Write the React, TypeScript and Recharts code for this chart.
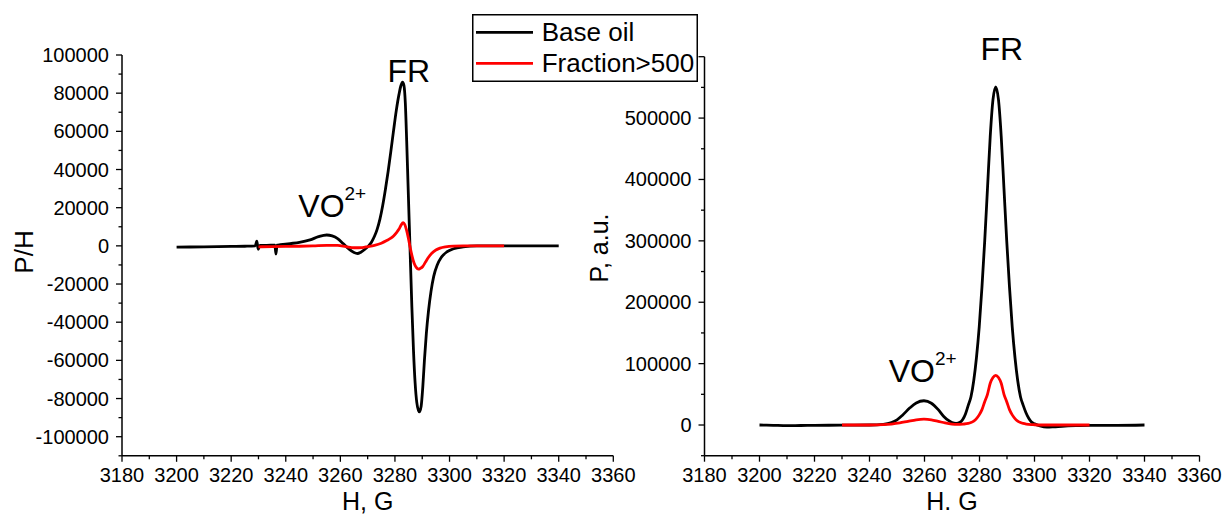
import React from 'react';
import { LineChart, Line, XAxis, YAxis, Legend, ReferenceDot, Label } from 'recharts';

const FONT = '"Liberation Sans", Arial, Helvetica, sans-serif';
const INK = '#000000';
const RED = '#ff0000';

const seriesNames = ['Base oil', 'Fraction>500'];

// Magnetic field axis, G
const fieldTicks = [3180, 3190, 3200, 3210, 3220, 3230, 3240, 3250, 3260, 3270, 3280, 3290, 3300, 3310, 3320, 3330, 3340, 3350, 3360];
const fieldLabelStep = 20;

// First-derivative spectra, P/H
const derivTicks = [
  -110000, -100000, -90000, -80000, -70000, -60000, -50000, -40000, -30000, -20000, -10000,
  0, 10000, 20000, 30000, 40000, 50000, 60000, 70000, 80000, 90000, 100000,
];
const derivLabelStep = 20000;

// Integrated spectra, P, a.u.
const absTicks = [-50000, 0, 50000, 100000, 150000, 200000, 250000, 300000, 350000, 400000, 450000, 500000, 550000, 600000];
const absLabelStep = 100000;
const absUnlabelled = [600000];

// Base oil, derivative
const derivBaseH = [
  3200, 3205, 3210, 3215, 3220, 3225, 3228.8, 3229.4, 3229.9, 3230.5, 3233, 3236, 3236.4, 3236.8, 3238,
  3241.6, 3245, 3248.9, 3252, 3255, 3257, 3259, 3261, 3263, 3265, 3266.3, 3267.5, 3269, 3270.5, 3271.5,
  3272.5, 3273.5, 3274.5, 3275.5, 3276.5, 3277.5, 3278.5, 3279.5, 3280.5, 3281.5, 3282.2, 3282.8, 3283.3,
  3283.8, 3284.3, 3284.8, 3285.5, 3286.2, 3286.8, 3287.4, 3288, 3288.9, 3289.6, 3290.2, 3290.8, 3291.5,
  3292.3, 3293.2, 3294.2, 3295.5, 3297, 3299, 3301.5, 3305, 3310, 3320, 3330, 3340,
];
const derivBaseP = [
  -700, -600, -500, -400, -300, -200, 0, 2500, -1800, 300, 300, 400, -4300, 400, 600,
  1200, 1800, 3100, 4800, 5700, 5200, 3800, 1200, -1500, -3500, -4000, -3300, -1800, 300, 2200,
  5000, 8800, 14000, 21000, 29500, 39000, 49500, 60500, 71000, 79500, 84000, 85800, 84000,
  75000, 55000, 32000, 0, -32000, -55000, -72000, -82000, -87000, -84000, -74000, -60000, -46000,
  -34000, -24000, -16000, -10000, -6000, -3200, -1500, -500, 0, 0, 0, 0,
];

// Fraction>500, derivative
const derivFracH = [
  3230, 3235, 3240, 3245, 3250, 3255, 3259, 3262, 3265, 3268, 3270, 3272.5, 3275, 3277, 3278.5, 3279.5,
  3280.5, 3281.5, 3282.3, 3283, 3283.6, 3284.2, 3284.9, 3285.6, 3286.3, 3287, 3287.8, 3288.6, 3289.3,
  3290.2, 3291.2, 3292.3, 3293.5, 3295, 3296.5, 3298.5, 3301.4, 3305, 3310, 3315, 3320,
];
const derivFracP = [
  -500, -400, -300, -200, 0, 300, 200, -400, -1000, -900, -400, 300, 1400, 2800, 4000, 5200,
  6800, 8800, 11000, 12200, 11200, 8500, 4200, -1000, -5500, -9000, -11300, -12200, -11800,
  -10800, -8500, -6000, -3900, -2200, -1200, -500, -100, 0, 0, 0, 0,
];

// Base oil, integrated
const absBaseH = [
  3200, 3205, 3210, 3215, 3220, 3230, 3240, 3245, 3248, 3250, 3252, 3254.7, 3257, 3259.8, 3262.5, 3265,
  3267, 3268.7, 3270, 3271.5, 3272.9, 3273.9, 3274.9, 3275.9, 3276.9, 3277.9, 3278.9, 3279.9, 3280.9,
  3281.9, 3282.9, 3283.9, 3284.9, 3285.9, 3286.9, 3287.9, 3288.9, 3289.9, 3290.9, 3291.9, 3292.9, 3293.9,
  3294.9, 3295.9, 3296.9, 3297.9, 3298.9, 3300, 3302, 3304.5, 3307, 3310, 3315, 3320, 3330, 3340,
];
const absBaseP = [
  0, -500, -1000, -800, -500, -300, 0, 1000, 4000, 8500, 16000, 28000, 36000, 39500, 35500, 25000,
  14000, 7500, 4000, 2700, 4500, 9000, 18000, 32000, 46000, 72000, 110000, 160000, 225000,
  300000, 385000, 470000, 530000, 551000, 530000, 470000, 385000, 300000, 225000, 160000, 110000, 72000,
  46000, 32000, 20000, 11000, 5000, 2000, -1500, -3500, -3000, -2000, -1000, -500, -500, 0,
];

// Fraction>500, integrated
const absFracH = [
  3230, 3235, 3240, 3245, 3248, 3251, 3254, 3257, 3259.8, 3262.5, 3265, 3267.5, 3270, 3272, 3274,
  3275.9, 3276.9, 3277.9, 3278.9, 3279.9, 3280.9, 3281.9, 3282.9, 3283.9, 3284.9, 3285.9, 3286.9, 3287.9,
  3288.9, 3289.9, 3290.9, 3291.9, 3292.9, 3293.9, 3294.9, 3295.9, 3297, 3299.5, 3302, 3305, 3310, 3315, 3320,
];
const absFracP = [
  0, 0, 0, 500, 1500, 3300, 6000, 8500, 9500, 8500, 6000, 3300, 1500, 1000, 1500,
  2500, 4000, 6500, 10500, 16500, 25000, 38000, 50000, 68000, 77500, 81000, 77500, 68000,
  50000, 38000, 25000, 16500, 10500, 6500, 4000, 2500, 1500, 600, 0, 0, 0, 0, 0,
];

// Where the peak names sit, in data units (text baseline)
const derivFR = { h: 3285.1, p: 86000 };
const derivVO = { h: 3244.6, p: 15300 };
const absFR = { h: 3288.1, p: 594600 };
const absVO = { h: 3247.0, p: 70550 };

const zip = (h: number[], p: number[]) => h.map((x, i) => ({ h: x, p: p[i] }));

const derivBase = zip(derivBaseH, derivBaseP);
const derivFrac = zip(derivFracH, derivFracP);
const absBase = zip(absBaseH, absBaseP);
const absFrac = zip(absFracH, absFracP);

const FieldTick = (props: any) => {
  const { x, y, payload } = props;
  const v = Number(payload.value);
  const major = v % fieldLabelStep === 0;
  return (
    <g>
      <line x1={x} x2={x} y1={y} y2={y + (major ? 6 : 3.5)} stroke={INK} strokeWidth={1.3} />
      {major ? (
        <text x={x} y={y + 26.5} textAnchor="middle" fontFamily={FONT} fontSize={20} fill={INK}>
          {v}
        </text>
      ) : null}
    </g>
  );
};

const makeValueTick = (step: number, unlabelled: number[]) => (props: any) => {
  const { x, y, payload } = props;
  const v = Number(payload.value);
  const major = v % step === 0;
  const showText = major && !unlabelled.includes(v);
  return (
    <g>
      <line x1={x} x2={x - (major ? 6 : 3.5)} y1={y} y2={y} stroke={INK} strokeWidth={1.3} />
      {showText ? (
        <text x={x - 13} y={y + 7} textAnchor="end" fontFamily={FONT} fontSize={20} fill={INK}>
          {v}
        </text>
      ) : null}
    </g>
  );
};

const DerivTick = makeValueTick(derivLabelStep, []);
const AbsTick = makeValueTick(absLabelStep, absUnlabelled);

const titleText = (x: number, y: number, text: string, rotated: boolean, size = 25) => (
  <text
    x={x}
    y={y}
    textAnchor="middle"
    fontFamily={FONT}
    fontSize={size}
    fill={INK}
    transform={rotated ? `rotate(-90 ${x} ${y})` : undefined}
  >
    {text}
  </text>
);

const peakName = (main: string, sup: string | null, anchor: 'start' | 'middle') => (props: any) => (
  <text x={props.cx} y={props.cy} textAnchor={anchor} fontFamily={FONT} fontSize={32} fill={INK}>
    {main}
    {sup ? (
      <tspan dy={-16.5} fontSize={19}>
        {sup}
      </tspan>
    ) : null}
  </text>
);

const LegendBox = (props: any) => {
  const items = (props.payload || []) as any[];
  return (
    <svg width={226} height={68} style={{ display: 'block', overflow: 'visible' }}>
      <rect x={0.75} y={0.75} width={224.5} height={66.5} fill="#ffffff" stroke={INK} strokeWidth={1.5} />
      {items.map((it, i) => (
        <g key={String(it.value)}>
          <line x1={4} x2={61} y1={18.3 + 31 * i} y2={18.3 + 31 * i} stroke={it.color} strokeWidth={2.8} />
          <text x={69.7} y={26.7 + 31 * i} fontFamily={FONT} fontSize={26} fill={INK}>
            {it.value}
          </text>
        </g>
      ))}
    </svg>
  );
};

const axisLine = { stroke: INK, strokeWidth: 1.5 };
const LINE_W = 2.8;

export default function App() {
  return (
    <div style={{ position: 'absolute', left: 0, top: 0, width: 1224, height: 517, background: '#ffffff' }}>
      {/* Integrated spectra */}
      <div style={{ position: 'absolute', left: 560, top: 0 }}>
        <LineChart width={664} height={517} margin={{ top: 56.7, right: 24.5, bottom: 0, left: 0 }}>
          <XAxis
            dataKey="h"
            type="number"
            domain={[3180, 3360]}
            ticks={fieldTicks}
            interval={0}
            allowDataOverflow
            height={61.3}
            tickSize={0}
            tickMargin={0}
            tickLine={false}
            axisLine={axisLine}
            tick={FieldTick}
            label={<Label content={() => titleText(392, 510, 'H. G', false)} />}
          />
          <YAxis
            dataKey="p"
            type="number"
            domain={[-50000, 600000]}
            ticks={absTicks}
            interval={0}
            allowDataOverflow
            width={144.5}
            tickSize={0}
            tickMargin={0}
            tickLine={false}
            axisLine={axisLine}
            tick={AbsTick}
            label={<Label content={() => titleText(48, 248, 'P, a.u.', true)} />}
          />
          <Line data={absBase} dataKey="p" name={seriesNames[0]} type="monotone" stroke={INK} strokeWidth={LINE_W} dot={false} activeDot={false} isAnimationActive={false} />
          <Line data={absFrac} dataKey="p" name={seriesNames[1]} type="monotone" stroke={RED} strokeWidth={LINE_W} dot={false} activeDot={false} isAnimationActive={false} />
          <ReferenceDot x={absFR.h} y={absFR.p} r={0} ifOverflow="visible" shape={peakName('FR', null, 'middle')} />
          <ReferenceDot x={absVO.h} y={absVO.p} r={0} ifOverflow="visible" shape={peakName('VO', '2+', 'start')} />
        </LineChart>
      </div>

      {/* First-derivative spectra */}
      <div style={{ position: 'absolute', left: 0, top: 0 }}>
        <LineChart width={660} height={517} margin={{ top: 55, right: 46.7, bottom: 0, left: 0 }}>
          <XAxis
            dataKey="h"
            type="number"
            domain={[3180, 3360]}
            ticks={fieldTicks}
            interval={0}
            allowDataOverflow
            height={61.2}
            tickSize={0}
            tickMargin={0}
            tickLine={false}
            axisLine={axisLine}
            tick={FieldTick}
            label={<Label content={() => titleText(367.7, 510, 'H, G', false)} />}
          />
          <YAxis
            dataKey="p"
            type="number"
            domain={[-110000, 100000]}
            ticks={derivTicks}
            interval={0}
            allowDataOverflow
            width={122}
            tickSize={0}
            tickMargin={0}
            tickLine={false}
            axisLine={axisLine}
            tick={DerivTick}
            label={<Label content={() => titleText(33, 252, 'P/H', true, 26)} />}
          />
          <Legend
            layout="vertical"
            align="center"
            verticalAlign="middle"
            wrapperStyle={{ left: 472, top: 14, width: 226, height: 68 }}
            content={LegendBox}
          />
          <Line data={derivBase} dataKey="p" name={seriesNames[0]} type="monotone" stroke={INK} strokeWidth={LINE_W} dot={false} activeDot={false} isAnimationActive={false} />
          <Line data={derivFrac} dataKey="p" name={seriesNames[1]} type="monotone" stroke={RED} strokeWidth={LINE_W} dot={false} activeDot={false} isAnimationActive={false} />
          <ReferenceDot x={derivFR.h} y={derivFR.p} r={0} ifOverflow="visible" shape={peakName('FR', null, 'middle')} />
          <ReferenceDot x={derivVO.h} y={derivVO.p} r={0} ifOverflow="visible" shape={peakName('VO', '2+', 'start')} />
        </LineChart>
      </div>
    </div>
  );
}
